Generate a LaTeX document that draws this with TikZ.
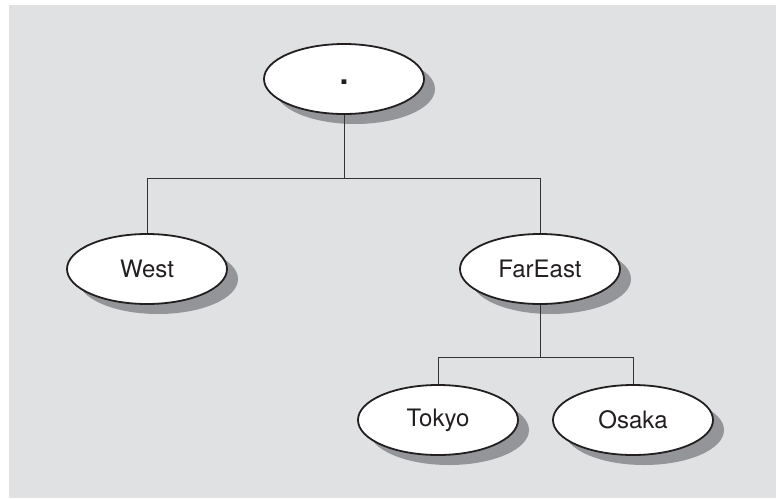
\documentclass[tikz,border=0pt]{standalone}
\usepackage{fontspec}
\setmainfont{TeX Gyre Heros}
\usepackage{tikz}
\usetikzlibrary{positioning,shapes.geometric,shadows}
\definecolor{treebg}{RGB}{224, 225, 227}
\definecolor{treeshadow}{RGB}{147, 149, 152}
\definecolor{treeink}{RGB}{35, 31, 32}
\definecolor{treeline}{RGB}{51, 51, 51}

\begin{document}
\begin{tikzpicture}[x=1pt, y=-1pt,
  zonebox/.style={ellipse, draw=treeink, line width=1.8pt, fill=white,
    minimum width=160pt, minimum height=70pt, inner sep=0pt,
    text=treeink, font=\fontsize{24}{28}\selectfont,
    drop shadow={shadow xshift=11pt, shadow yshift=-10pt,
      fill=treeshadow, opacity=1}},
  branch/.style={draw=treeline, line width=1pt}]
  \useasboundingbox (0,0) rectangle (776,498);
  \fill[treebg] (9,5) rectangle (776,498);
  % zone nodes
  \node[zonebox, font=\fontsize{32}{36}\selectfont\bfseries] (root) at (344,79)
    {\raisebox{-5pt}[0pt][0pt]{.}};
  \node[zonebox] (west) at (147,269) {West};
  \node[zonebox] (fareast) at (540,269) {FarEast};
  \node[zonebox] (tokyo) at (438,420) {Tokyo};
  \node[zonebox] (osaka) at (633,420) {Osaka};
  % branches
  \coordinate (rootsplit) at (root |- 0,178);
  \coordinate (farsplit) at (fareast |- 0,357);
  \draw[branch] (root.south) -- (rootsplit) -| (west.north);
  \draw[branch] (rootsplit) -| (fareast.north);
  \draw[branch] (fareast.south) -- (farsplit) -| (tokyo.north);
  \draw[branch] (farsplit) -| (osaka.north);
\end{tikzpicture}
\end{document}
